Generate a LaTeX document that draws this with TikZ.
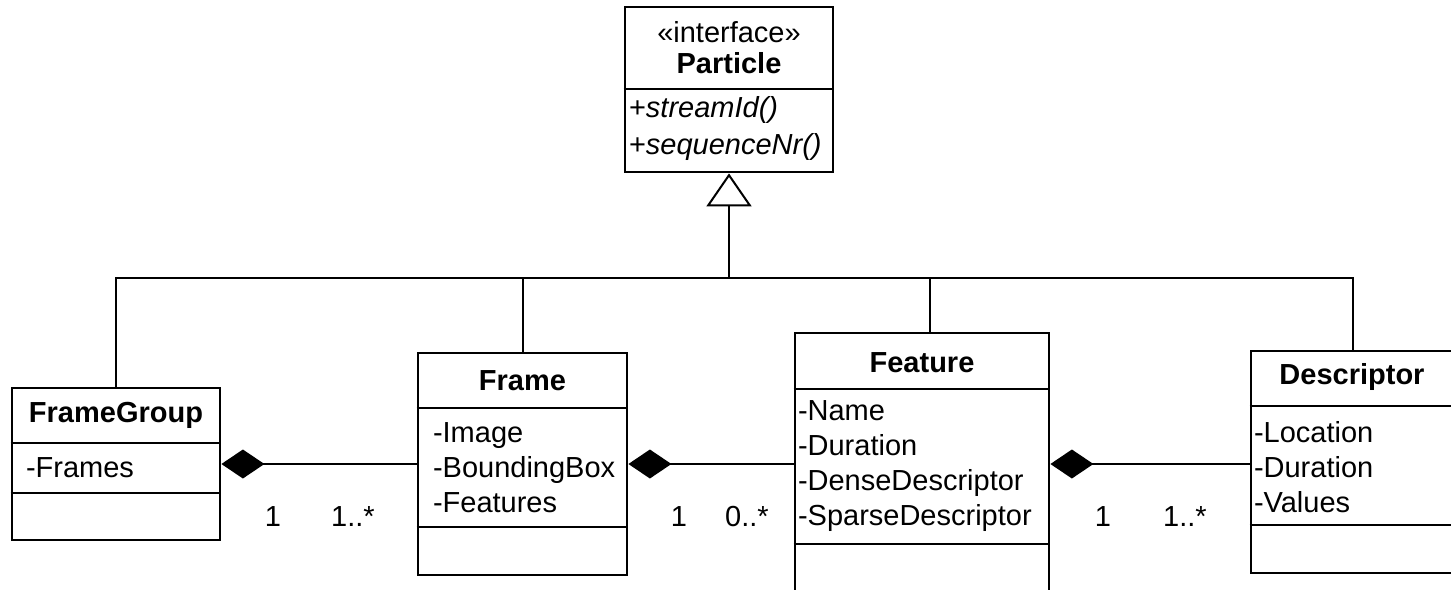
\documentclass[tikz,border=0pt]{standalone}
\usepackage{fontspec}
\setmainfont{Liberation Sans}
\usetikzlibrary{arrows.meta}

\tikzset{
	cls/.style 2 args={draw, line width=1.4pt, minimum width=#1, minimum height=#2, inner sep=0pt},
	title/.style={font=\fontsize{14.5}{17.5}\selectfont\bfseries, inner sep=0pt},
	attr/.style={anchor=west, align=left, inner sep=0pt},
	mult/.style={inner sep=0pt},
	inherit/.style={-{Triangle[open, length=16.5pt, width=22.5pt]}},
	whole/.style={{Diamond[length=21.5pt, width=14.5pt]}-}
}

\begin{document}
\begin{tikzpicture}[x=0.5pt, y=-0.5pt, line width=1pt, font=\fontsize{14.5}{17.5}\selectfont]
		\useasboundingbox (0,0) rectangle (1451,589);
		\begin{scope}
		\clip (0,0) rectangle (1451,589);
		% class boxes
		\node[cls={104pt}{82.5pt}] (particle) at (729,89.5) {};
		\node[cls={104pt}{76pt}] (fg) at (116,464) {};
		\node[cls={104.5pt}{111pt}] (frame) at (522.5,464) {};
		\node[cls={127pt}{131pt}] (feature) at (922,464) {};
		\node[cls={112pt}{111pt}] (desc) at (1363,462) {};
		\foreach \n/\y in {particle/89, fg/443, fg/493, frame/408, frame/527, feature/389, feature/544, desc/406, desc/525}{
			\draw[line width=1.4pt] (\n.west |- 0,\y) -- (\n.east |- 0,\y);}
		% names and members
		\node[inner sep=0pt] (particlestereo) at (729,32) {«interface»};
		\node[title] (particlename) at (729,63) {Particle};
		\node[attr, font=\fontsize{14.5}{18.5}\selectfont] (particleops) at (628,129) {+\textit{streamId()}\\+\textit{sequenceNr()}};
		\node[title] (fgname) at (116,415) {FrameGroup};
		\node[attr] (fgattrs) at (25,468) {-Frames};
		\node[title] (framename) at (522.5,381) {Frame};
		\node[attr] (frameattrs) at (432,468) {-Image\\-BoundingBox\\-Features};
		\node[title] (featurename) at (922,363) {Feature};
		\node[attr] (featureattrs) at (797,466) {-Name\\-Duration\\-DenseDescriptor\\-SparseDescriptor};
		\node[title] (descname) at (1352,377) {Descriptor};
		\node[attr] (descattrs) at (1253,467) {-Location\\-Duration\\-Values};
		% generalisation
		\coordinate (bus) at (729,278);
		\coordinate (featuretop) at (930,333);
		\coordinate (desctop) at (1353,351);
		\draw[inherit] (bus) -- (particle.south);
		\draw (fg.north) |- (bus);
		\draw (frame.north) |- (bus);
		\draw (featuretop) |- (bus);
		\draw (desctop) |- (bus);
		% composition
		\draw[whole] (fg.east) -- (frame.west);
		\draw[whole] (frame.east) -- (feature.west);
		\draw[whole] (feature.east) -- (desc.west |- feature.east);
		\foreach \name/\x/\txt in {fgone/273/1, fgmany/353/1..*, frameone/679/1, framemany/747/0..*, featureone/1103/1, featuremany/1185/1..*}{
			\node[mult] (\name) at (\x,517) {\txt};}
		\end{scope}
\end{tikzpicture}
\end{document}
